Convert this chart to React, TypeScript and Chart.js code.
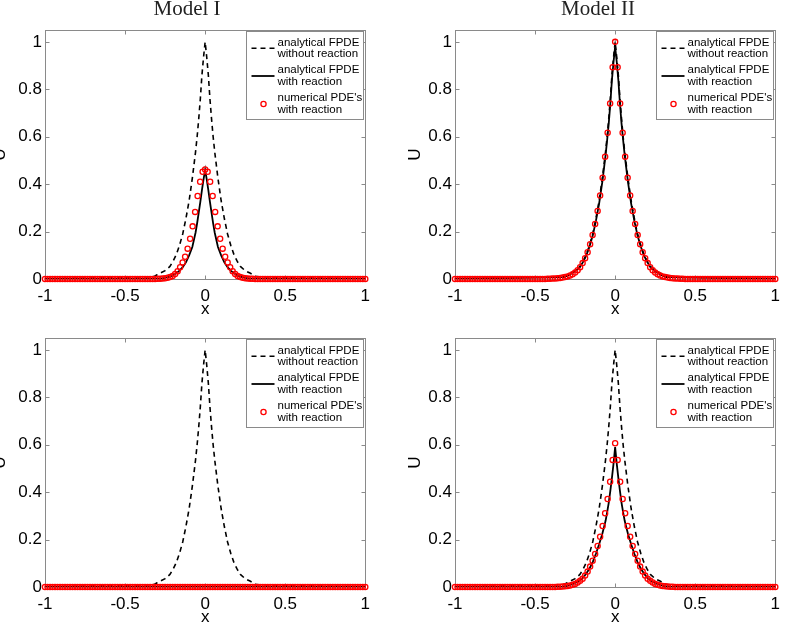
import React, { useEffect, useRef } from "react";
import { Chart, registerables } from "chart.js";

Chart.register(...registerables);

// ---------- tick labels / texts ----------
const xTicks = [-1, -0.5, 0, 0.5, 1];
const yTicks = [0, 0.2, 0.4, 0.6, 0.8, 1];
const panelTitles = ["Model I", "Model II"];
const legendLabels = [
  ["analytical FPDE", "without reaction"],
  ["analytical FPDE", "with reaction"],
  ["numerical PDE's", "with reaction"],
];

// ---------- numerical grid (x = -1 .. 1, 129 nodes) ----------
const xGrid = Array.from({ length: 129 }, (_, i) => -1 + i / 64);

const tail36 = [
  0, 0, 0, 0, 0, 0, 0, 0, 0, 0, 0, 0, 0, 0, 0, 0, 0, 0,
  0, 0, 0, 0, 0, 0, 0, 0, 0, 0, 0, 0, 0, 0, 0, 0, 0, 0,
];

// central 57 nodes (x = -28/64 .. 28/64)
const num1Core = [
  0, 0, 0, 0, 0, 0, 0, 0, 0, 0.001, 0.001, 0.002, 0.003, 0.005, 0.008, 0.013, 0.021, 0.033, 0.05, 0.07,
  0.094, 0.128, 0.17, 0.222, 0.283, 0.35, 0.41, 0.452,
  0.462,
  0.452, 0.41, 0.35, 0.283, 0.222, 0.17, 0.128, 0.094, 0.07, 0.05, 0.033, 0.021, 0.013, 0.008, 0.005,
  0.003, 0.002, 0.001, 0.001, 0, 0, 0, 0, 0, 0, 0, 0, 0,
];
const num2Core = [
  0, 0.001, 0.001, 0.002, 0.002, 0.003, 0.004, 0.006, 0.008, 0.011, 0.015, 0.02, 0.027, 0.037, 0.05,
  0.067, 0.088, 0.113, 0.147, 0.186, 0.232, 0.287, 0.352, 0.427, 0.516, 0.617, 0.74, 0.893,
  1.0,
  0.893, 0.74, 0.617, 0.516, 0.427, 0.352, 0.287, 0.232, 0.186, 0.147, 0.113, 0.088, 0.067, 0.05,
  0.037, 0.027, 0.02, 0.015, 0.011, 0.008, 0.006, 0.004, 0.003, 0.002, 0.002, 0.001, 0.001, 0,
];
const num3Core = [
  0, 0, 0, 0, 0, 0, 0, 0, 0, 0, 0, 0, 0, 0, 0, 0, 0, 0, 0, 0, 0, 0, 0, 0, 0, 0, 0, 0,
  0,
  0, 0, 0, 0, 0, 0, 0, 0, 0, 0, 0, 0, 0, 0, 0, 0, 0, 0, 0, 0, 0, 0, 0, 0, 0, 0, 0, 0,
];
const num4Core = [
  0, 0, 0, 0, 0, 0.001, 0.001, 0.002, 0.003, 0.004, 0.006, 0.009, 0.013, 0.019, 0.026, 0.035, 0.048,
  0.065, 0.086, 0.111, 0.139, 0.173, 0.212, 0.257, 0.311, 0.371, 0.444, 0.536,
  0.606,
  0.536, 0.444, 0.371, 0.311, 0.257, 0.212, 0.173, 0.139, 0.111, 0.086, 0.065, 0.048, 0.035, 0.026,
  0.019, 0.013, 0.009, 0.006, 0.004, 0.003, 0.002, 0.001, 0.001, 0, 0, 0, 0, 0,
];

const num1 = [...tail36, ...num1Core, ...tail36];
const num2 = [...tail36, ...num2Core, ...tail36];
const num3 = [...tail36, ...num3Core, ...tail36];
const num4 = [...tail36, ...num4Core, ...tail36];

// ---------- analytical curves ----------
const xLine = [
  -1, -0.32, -0.3, -0.28, -0.25, -0.22, -0.2, -0.18, -0.16, -0.14, -0.12, -0.1, -0.08, -0.06, -0.05,
  -0.04, -0.03, -0.02, -0.01, 0, 0.01, 0.02, 0.03, 0.04, 0.05, 0.06, 0.08, 0.1, 0.12, 0.14, 0.16, 0.18,
  0.2, 0.22, 0.25, 0.28, 0.3, 0.32, 1,
];
const dashedNoReaction = [
  0, 0.01, 0.018, 0.025, 0.035, 0.053, 0.075, 0.103, 0.142, 0.19, 0.255, 0.33, 0.425, 0.535, 0.6,
  0.675, 0.76, 0.86, 0.935, 1.0, 0.935, 0.86, 0.76, 0.675, 0.6, 0.535, 0.425, 0.33, 0.255, 0.19,
  0.142, 0.103, 0.075, 0.053, 0.035, 0.025, 0.018, 0.01, 0,
];
const solid1 = [
  0, 0, 0.001, 0.002, 0.005, 0.01, 0.016, 0.024, 0.035, 0.05, 0.07, 0.1, 0.135, 0.195, 0.235, 0.28,
  0.325, 0.375, 0.42, 0.46, 0.42, 0.375, 0.325, 0.28, 0.235, 0.195, 0.135, 0.1, 0.07, 0.05, 0.035,
  0.024, 0.016, 0.01, 0.005, 0.002, 0.001, 0, 0,
];
const solid2 = [
  0, 0.008, 0.013, 0.02, 0.032, 0.05, 0.072, 0.1, 0.137, 0.183, 0.245, 0.318, 0.41, 0.52, 0.585,
  0.655, 0.74, 0.84, 0.915, 0.98, 0.915, 0.84, 0.74, 0.655, 0.585, 0.52, 0.41, 0.318, 0.245, 0.183,
  0.137, 0.1, 0.072, 0.05, 0.032, 0.02, 0.013, 0.008, 0,
];
const solid3 = [
  0, 0, 0, 0, 0, 0, 0, 0, 0, 0, 0, 0, 0, 0, 0, 0, 0, 0, 0, 0, 0, 0, 0, 0, 0, 0, 0, 0, 0, 0, 0, 0, 0,
  0, 0, 0, 0, 0, 0,
];
const solid4 = [
  0, 0.002, 0.005, 0.009, 0.016, 0.028, 0.04, 0.057, 0.078, 0.105, 0.14, 0.18, 0.225, 0.278, 0.315,
  0.355, 0.405, 0.46, 0.52, 0.59, 0.52, 0.46, 0.405, 0.355, 0.315, 0.278, 0.225, 0.18, 0.14, 0.105,
  0.078, 0.057, 0.04, 0.028, 0.016, 0.009, 0.005, 0.002, 0,
];

const SANS = "'Liberation Sans', Arial, Helvetica, sans-serif";
const BOX = "#8a8a8a";

const boxPlugin = {
  id: "matlabBox",
  beforeDatasetsDraw(chart: any) {
    const { ctx, chartArea: a, scales } = chart;
    ctx.save();
    ctx.strokeStyle = BOX;
    ctx.lineWidth = 1;
    const L = Math.round(a.left) + 0.5;
    const T = Math.round(a.top) + 0.5;
    const R = Math.round(a.right) + 0.5;
    const B = Math.round(a.bottom) + 0.5;
    ctx.strokeRect(L, T, R - L, B - T);
    ctx.beginPath();
    for (const v of xTicks) {
      const px = Math.round(scales.x.getPixelForValue(v)) + 0.5;
      ctx.moveTo(px, B);
      ctx.lineTo(px, B - 4);
      ctx.moveTo(px, T);
      ctx.lineTo(px, T + 4);
    }
    for (const v of yTicks) {
      const py = Math.round(scales.y.getPixelForValue(v)) + 0.5;
      ctx.moveTo(L, py);
      ctx.lineTo(L + 4, py);
      ctx.moveTo(R, py);
      ctx.lineTo(R - 4, py);
    }
    ctx.stroke();
    ctx.restore();
  },
};

const legendPlugin = {
  id: "matlabLegend",
  afterDraw(chart: any) {
    const { ctx, chartArea: a } = chart;
    const w = 117;
    const h = 88;
    const bx = Math.round(a.right - 2 - w) + 0.5;
    const by = Math.round(a.top + 1) + 0.5;
    ctx.save();
    ctx.fillStyle = "#fff";
    ctx.fillRect(bx, by, w, h);
    ctx.strokeStyle = BOX;
    ctx.lineWidth = 1;
    ctx.strokeRect(bx, by, w, h);
    const rows = [16.7, 44.5, 72.5];
    // dashed sample
    ctx.strokeStyle = "#000";
    ctx.lineWidth = 1.6;
    ctx.setLineDash([5, 4]);
    ctx.beginPath();
    ctx.moveTo(bx + 5, by + rows[0]);
    ctx.lineTo(bx + 28, by + rows[0]);
    ctx.stroke();
    // solid sample
    ctx.setLineDash([]);
    ctx.lineWidth = 1.8;
    ctx.beginPath();
    ctx.moveTo(bx + 5, by + rows[1]);
    ctx.lineTo(bx + 28, by + rows[1]);
    ctx.stroke();
    // marker sample
    ctx.strokeStyle = "#ff0000";
    ctx.lineWidth = 1.3;
    ctx.beginPath();
    ctx.arc(bx + 17, by + rows[2], 2.6, 0, Math.PI * 2);
    ctx.stroke();
    // texts
    ctx.fillStyle = "#000";
    ctx.font = `11.5px ${SANS}`;
    ctx.textBaseline = "middle";
    ctx.textAlign = "left";
    legendLabels.forEach((pair, i) => {
      ctx.fillText(pair[0], bx + 31, by + rows[i] - 5.8);
      ctx.fillText(pair[1], bx + 31, by + rows[i] + 5.8);
    });
    ctx.restore();
  },
};

type PanelProps = {
  left: number;
  top: number;
  width: number;
  height: number;
  plotLeft: number;
  plotTop: number;
  plotRight: number;
  plotBottom: number;
  yTitlePad: number;
  markers: number[];
  solid: number[];
  dashed: number[];
};

function Panel(p: PanelProps) {
  const ref = useRef<HTMLCanvasElement>(null);
  useEffect(() => {
    if (!ref.current) return;
    const yW = p.plotLeft - p.left;
    const xH = p.top + p.height - p.plotBottom;
    const chart = new Chart(ref.current, {
      type: "scatter",
      data: {
        datasets: [
          {
            data: xGrid.map((x, i) => ({ x, y: p.markers[i] })),
            showLine: false,
            pointStyle: "circle",
            pointRadius: 2.6,
            pointBorderWidth: 1.3,
            pointBorderColor: "#ff0000",
            pointBackgroundColor: "rgba(0,0,0,0)",
            clip: false,
          } as any,
          {
            data: xLine.map((x, i) => ({ x, y: p.solid[i] })),
            showLine: true,
            borderColor: "#000",
            borderWidth: 1.8,
            pointRadius: 0,
            tension: 0,
          } as any,
          {
            data: xLine.map((x, i) => ({ x, y: p.dashed[i] })),
            showLine: true,
            borderColor: "#000",
            borderWidth: 1.6,
            borderDash: [5, 4],
            pointRadius: 0,
            tension: 0,
          } as any,
        ],
      },
      options: {
        responsive: false,
        animation: false,
        devicePixelRatio: 1,
        events: [],
        layout: {
          padding: {
            left: 0,
            top: p.plotTop - p.top,
            right: p.left + p.width - p.plotRight,
            bottom: 0,
          },
        },
        plugins: { legend: { display: false }, tooltip: { enabled: false } },
        scales: {
          x: {
            type: "linear",
            min: -1,
            max: 1,
            afterBuildTicks: (s: any) => {
              s.ticks = xTicks.map((v) => ({ value: v }));
            },
            afterFit: (s: any) => {
              s.height = xH;
            },
            grid: { display: false, drawTicks: false },
            border: { display: false },
            ticks: {
              padding: 7,
              color: "#000",
              autoSkip: false,
              maxRotation: 0,
              font: { family: SANS, size: 17 },
              callback: (v: any) => String(v),
            },
            title: {
              display: true,
              text: "x",
              color: "#000",
              font: { family: SANS, size: 17, lineHeight: 1 },
              padding: { top: 0, bottom: 0 },
            },
          },
          y: {
            type: "linear",
            min: 0,
            max: 1.05,
            afterBuildTicks: (s: any) => {
              s.ticks = yTicks.map((v) => ({ value: v }));
            },
            afterFit: (s: any) => {
              s.width = yW;
            },
            grid: { display: false, drawTicks: false },
            border: { display: false },
            ticks: {
              padding: 3,
              color: "#000",
              autoSkip: false,
              font: { family: SANS, size: 17 },
              callback: (v: any) => String(v),
            },
            title: {
              display: true,
              text: "U",
              color: "#000",
              font: { family: SANS, size: 17, lineHeight: 1.2 },
              padding: { top: p.yTitlePad, bottom: 0 },
            },
          },
        },
      } as any,
      plugins: [boxPlugin, legendPlugin],
    });
    return () => chart.destroy();
  }, []);
  return (
    <canvas
      ref={ref}
      width={p.width}
      height={p.height}
      style={{ position: "absolute", left: p.left, top: p.top, width: p.width, height: p.height }}
    />
  );
}

export default function App() {
  const titleStyle: React.CSSProperties = {
    position: "absolute",
    top: -2,
    transform: "translateX(-50%)",
    fontFamily: "'Liberation Serif', 'DejaVu Serif', serif",
    fontSize: 21,
    lineHeight: "21px",
    color: "#222",
    whiteSpace: "nowrap",
  };
  return (
    <div
      style={{
        position: "absolute",
        left: 0,
        top: 0,
        width: 785,
        height: 626,
        overflow: "hidden",
        background: "#fff",
      }}
    >
      <Panel left={-15} top={0} width={392} height={318} plotLeft={45} plotTop={30} plotRight={372} plotBottom={279} yTitlePad={5} markers={num1} solid={solid1} dashed={dashedNoReaction} />
      <Panel left={395} top={0} width={392} height={318} plotLeft={455} plotTop={30} plotRight={781} plotBottom={279} yTitlePad={10} markers={num2} solid={solid2} dashed={dashedNoReaction} />
      <Panel left={-15} top={308} width={392} height={318} plotLeft={45} plotTop={338} plotRight={372} plotBottom={587} yTitlePad={5} markers={num3} solid={solid3} dashed={dashedNoReaction} />
      <Panel left={395} top={308} width={392} height={318} plotLeft={455} plotTop={338} plotRight={781} plotBottom={587} yTitlePad={10} markers={num4} solid={solid4} dashed={dashedNoReaction} />
      <div style={{ ...titleStyle, left: 187 }}>{panelTitles[0]}</div>
      <div style={{ ...titleStyle, left: 598 }}>{panelTitles[1]}</div>
    </div>
  );
}
